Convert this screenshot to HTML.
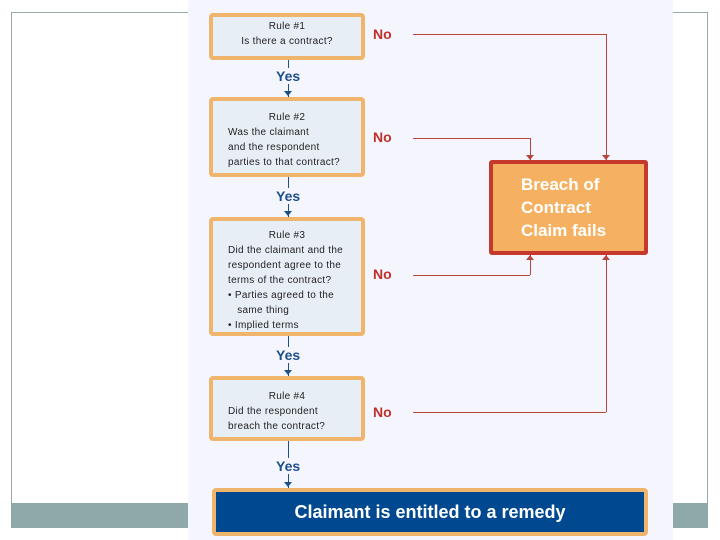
<!DOCTYPE html>
<html><head><meta charset="utf-8"><style>
body{margin:0;width:720px;height:540px;position:relative;background:#fff;overflow:hidden;font-family:"Liberation Sans",sans-serif}
.a{position:absolute}
.box{position:absolute;border:4px solid #efb56c;background:#e8eef6;border-radius:4px;box-sizing:border-box;font-size:10px;color:#222;line-height:15px;letter-spacing:0.3px}
.no{position:absolute;color:#c0302a;font-weight:bold;font-size:14px}
.yes{position:absolute;color:#1c4f8c;font-weight:bold;font-size:14px;left:276px}
.ln{position:absolute;background:#b8453e}
.vl{position:absolute;background:#1c4f8c;width:1px;left:288px}
.ad{position:absolute;width:0;height:0;border-left:4px solid transparent;border-right:4px solid transparent;border-top:5px solid #1c4f8c;left:284px}
.rd{position:absolute;width:0;height:0;border-left:4px solid transparent;border-right:4px solid transparent;border-top:5px solid #b8453e}
.ru{position:absolute;width:0;height:0;border-left:4px solid transparent;border-right:4px solid transparent;border-bottom:5px solid #b8453e}
</style></head><body>
<div class="a" style="left:11px;top:12px;width:1px;height:516px;background:#9aa"></div>
<div class="a" style="left:11px;top:12px;width:177px;height:1px;background:#9aa"></div>
<div class="a" style="left:673px;top:12px;width:34px;height:1px;background:#9aa"></div>
<div class="a" style="left:707px;top:12px;width:1px;height:516px;background:#9aa"></div>
<div class="a" style="left:11px;top:503px;width:697px;height:25px;background:#8fa9a9"></div>
<div class="a" style="left:188px;top:0;width:485px;height:540px;background:#f5f6fd"></div>

<div class="box" style="left:209px;top:13px;width:156px;height:47px;text-align:center;padding-top:2px">Rule #1<br>Is there a contract?</div>
<div class="box" style="left:209px;top:97px;width:156px;height:80px;padding:9px 0 0 15px"><div style="text-align:center;margin-left:-15px">Rule #2</div>Was the claimant<br>and the respondent<br>parties to that contract?</div>
<div class="box" style="left:209px;top:217px;width:156px;height:119px;padding:7px 0 0 15px"><div style="text-align:center;margin-left:-15px">Rule #3</div>Did the claimant and the<br>respondent agree to the<br>terms of the contract?<br>• Parties agreed to the<br>&nbsp;&nbsp;&nbsp;same thing<br>• Implied terms</div>
<div class="box" style="left:209px;top:376px;width:156px;height:65px;padding:9px 0 0 15px"><div style="text-align:center;margin-left:-15px">Rule #4</div>Did the respondent<br>breach the contract?</div>

<div class="vl" style="top:60px;height:37px"></div>
<div class="vl" style="top:177px;height:40px"></div>
<div class="vl" style="top:336px;height:40px"></div>
<div class="vl" style="top:441px;height:47px"></div>
<div class="yes" style="top:68px;background:#f5f6fd">Yes</div>
<div class="yes" style="top:188px;background:#f5f6fd">Yes</div>
<div class="yes" style="top:347px;background:#f5f6fd">Yes</div>
<div class="yes" style="top:458px;background:#f5f6fd">Yes</div>
<div class="ad" style="top:91px"></div>
<div class="ad" style="top:211px"></div>
<div class="ad" style="top:370px"></div>
<div class="ad" style="top:482px"></div>

<div class="no" style="left:373px;top:26px">No</div>
<div class="no" style="left:373px;top:129px">No</div>
<div class="no" style="left:373px;top:266px">No</div>
<div class="no" style="left:373px;top:404px">No</div>
<div class="ln" style="left:413px;top:34px;width:193px;height:1px"></div>
<div class="ln" style="left:606px;top:34px;width:1px;height:126px"></div>
<div class="ln" style="left:413px;top:138px;width:117px;height:1px"></div>
<div class="ln" style="left:530px;top:138px;width:1px;height:22px"></div>
<div class="ln" style="left:413px;top:275px;width:117px;height:1px"></div>
<div class="ln" style="left:530px;top:255px;width:1px;height:20px"></div>
<div class="ln" style="left:413px;top:412px;width:193px;height:1px"></div>
<div class="ln" style="left:606px;top:255px;width:1px;height:157px"></div>

<div class="a" style="left:489px;top:160px;width:159px;height:95px;box-sizing:border-box;border:4px solid #c4392b;background:#f5b161;border-radius:3px;color:#fff;font-weight:bold;font-size:17px;line-height:23px;padding:9px 0 0 28px">Breach of<br>Contract<br>Claim fails</div>
<div class="rd" style="left:526px;top:155px"></div>
<div class="rd" style="left:602px;top:155px"></div>
<div class="ru" style="left:526px;top:255px"></div>
<div class="ru" style="left:602px;top:255px"></div>

<div class="a" style="left:212px;top:488px;width:436px;height:48px;box-sizing:border-box;border:4px solid #efb56c;background:#004990;border-radius:4px;color:#fff;font-weight:bold;font-size:18px;text-align:center;line-height:40px">Claimant is entitled to a remedy</div>
</body></html>
